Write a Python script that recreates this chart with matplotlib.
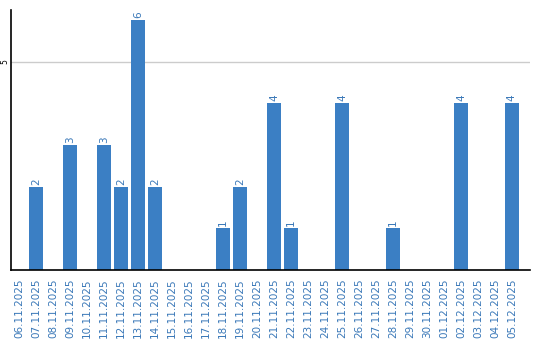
import matplotlib
matplotlib.use('Agg')
import matplotlib.pyplot as plt
import numpy as np

plt.rcParams['font.family'] = 'DejaVu Sans'

dates = ['06.11.2025', '07.11.2025', '08.11.2025', '09.11.2025', '10.11.2025',
         '11.11.2025', '12.11.2025', '13.11.2025', '14.11.2025', '15.11.2025',
         '16.11.2025', '17.11.2025', '18.11.2025', '19.11.2025', '20.11.2025',
         '21.11.2025', '22.11.2025', '23.11.2025', '24.11.2025', '25.11.2025',
         '26.11.2025', '27.11.2025', '28.11.2025', '29.11.2025', '30.11.2025',
         '01.12.2025', '02.12.2025', '03.12.2025', '04.12.2025', '05.12.2025']
counts = [0, 2, 0, 3, 0, 3, 2, 6, 2, 0,
          0, 0, 1, 2, 0, 4, 1, 0, 0, 4,
          0, 0, 1, 0, 0, 0, 4, 0, 0, 4]

BAR_COLOR = '#3b7fc4'
TEXT_COLOR = '#3a78b8'

fig = plt.figure(figsize=(5.4, 3.4), dpi=100)
ax = fig.add_axes([0.02, 0.206, 0.961, 0.764])

x = np.arange(len(dates))
ax.bar(x, counts, width=0.82, color=BAR_COLOR, zorder=2)

for xi, v in zip(x, counts):
    if v > 0:
        ax.text(xi, v + 0.05, str(v), rotation=90, ha='center', va='bottom',
                fontsize=7.5, color=TEXT_COLOR)

ax.set_xlim(-0.5, 30.05)
ax.set_ylim(0, 6.24)
ax.set_yticks([5])
ax.set_yticklabels(['5'], rotation=90, va='center', fontsize=5.5)
ax.tick_params(axis='y', length=0, pad=1)
ax.yaxis.grid(True, color='#cccccc', linewidth=1, zorder=0)

ax.set_xticks(x)
ax.set_xticklabels(dates, rotation=90, fontsize=7.5, color=TEXT_COLOR)
ax.tick_params(axis='x', length=0, pad=6)

for s in ['top', 'right']:
    ax.spines[s].set_visible(False)
ax.spines['left'].set_color('black')
ax.spines['bottom'].set_color('black')
ax.spines['left'].set_linewidth(1.2)
ax.spines['bottom'].set_linewidth(1.2)

fig.savefig('out.png', dpi=100)
